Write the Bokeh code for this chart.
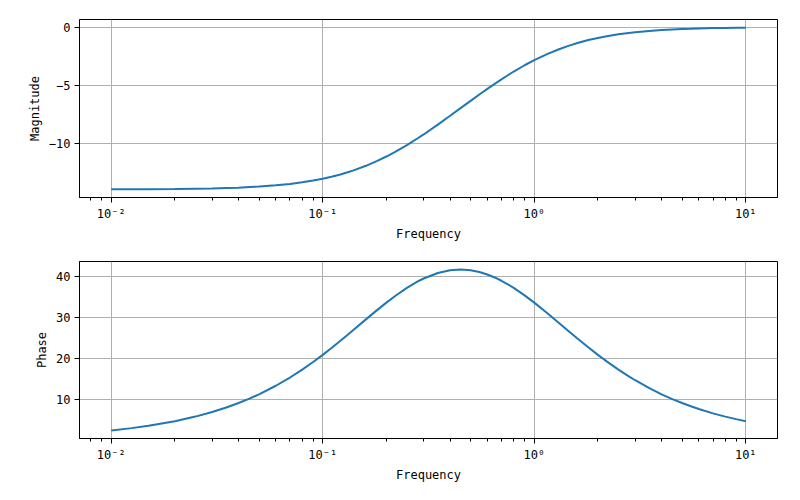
from bokeh.plotting import figure
from bokeh.layouts import column
from bokeh.models import Range1d, CustomJSTickFormatter, FixedTicker, LogTicker
from bokeh.embed import file_html
from bokeh.resources import INLINE

# Frequencies (rad/s) sampled along the curves
freq = [0.01, 0.0125, 0.015, 0.02, 0.025, 0.03, 0.035, 0.04, 0.045, 0.05, 0.06,
        0.07, 0.08, 0.09, 0.1, 0.11, 0.12, 0.13, 0.14, 0.16, 0.18, 0.2, 0.22,
        0.25, 0.28, 0.3, 0.35, 0.4, 0.45, 0.5, 0.55, 0.6, 0.65, 0.7, 0.75, 0.8,
        0.9, 1.0, 1.15, 1.3, 1.45, 1.6, 1.8, 2.0, 2.2, 2.5, 2.8, 3.0, 3.5, 4.0,
        4.5, 5.0, 5.5, 6.0, 7.0, 8.0, 9.0, 10.0]
# Magnitude (dB)
magnitude = [-13.97, -13.96, -13.96, -13.94, -13.91, -13.89, -13.85, -13.82,
             -13.77, -13.73, -13.62, -13.50, -13.36, -13.21, -13.05, -12.88,
             -12.71, -12.52, -12.33, -11.94, -11.54, -11.14, -10.74, -10.16,
             -9.59, -9.24, -8.39, -7.63, -6.95, -6.35, -5.80, -5.32, -4.88,
             -4.49, -4.14, -3.82, -3.28, -2.84, -2.32, -1.92, -1.61, -1.37,
             -1.11, -0.93, -0.78, -0.62, -0.50, -0.44, -0.33, -0.25, -0.20,
             -0.16, -0.14, -0.11, -0.08, -0.07, -0.05, -0.04]
# Phase (deg)
phase = [2.29, 2.86, 3.43, 4.57, 5.69, 6.81, 7.92, 9.02, 10.10, 11.17, 13.27,
         15.29, 17.23, 19.09, 20.85, 22.53, 24.12, 25.62, 27.02, 29.57, 31.78,
         33.69, 35.32, 37.30, 38.82, 39.61, 40.97, 41.63, 41.81, 41.63, 41.21,
         40.60, 39.87, 39.06, 38.20, 37.30, 35.48, 33.69, 31.14, 28.82, 26.74,
         24.88, 22.72, 20.85, 19.25, 17.23, 15.57, 14.62, 12.67, 11.17, 9.98,
         9.02, 8.22, 7.55, 6.49, 5.69, 5.07, 4.57]

mag_ticks = [-10, -5, 0]
phase_ticks = [10, 20, 30, 40]

FONT = "DejaVu Sans Mono"
LINE_COLOR = "#1f77b4"

x_fmt = CustomJSTickFormatter(code="""
const e = Math.round(Math.log10(tick));
const sup = {"-":"\u207b","0":"\u2070","1":"\u00b9","2":"\u00b2","3":"\u00b3",
             "4":"\u2074","5":"\u2075","6":"\u2076","7":"\u2077","8":"\u2078","9":"\u2079"};
return "10" + String(e).split("").map(c => sup[c]).join("");
""")
y_fmt_code = """
return tick < 0 ? "\u2212" + String(Math.abs(tick)) : String(tick);
"""


def make_fig(y, ylabel, yticks, yrange, top, bottom):
    p = figure(width=800, height=250, x_axis_type="log",
               x_range=Range1d(10 ** -2.15, 10 ** 1.15),
               y_range=Range1d(*yrange),
               output_backend="svg", toolbar_location=None,
               min_border_left=79, min_border_right=23,
               min_border_top=top, min_border_bottom=bottom)
    p.line(freq, y, line_color=LINE_COLOR, line_width=2)
    p.outline_line_color = "black"
    p.outline_line_width = 1
    p.background_fill_color = "white"
    p.border_fill_color = "white"

    p.xaxis.ticker = LogTicker(num_minor_ticks=10)
    p.xaxis.formatter = x_fmt
    p.yaxis.ticker = FixedTicker(ticks=yticks)
    p.yaxis.formatter = CustomJSTickFormatter(code=y_fmt_code)
    p.xaxis.axis_label = "Frequency"
    p.yaxis.axis_label = ylabel

    for ax in (p.xaxis, p.yaxis):
        ax.axis_line_color = "black"
        ax.major_tick_line_color = "black"
        ax.major_tick_out = 5
        ax.major_tick_in = 0
        ax.major_label_text_font = FONT
        ax.major_label_text_font_size = "12px"
        ax.major_label_text_color = "black"
        ax.axis_label_text_font = FONT
        ax.axis_label_text_font_size = "12px"
        ax.axis_label_text_font_style = "normal"
        ax.axis_label_text_color = "black"
        ax.major_label_standoff = 4
    p.xaxis.axis_label_standoff = 3
    p.yaxis.axis_label_standoff = 4
    p.xaxis.minor_tick_line_color = "black"
    p.xaxis.minor_tick_out = 3
    p.xaxis.minor_tick_in = 0
    p.yaxis.minor_tick_line_color = None

    p.grid.grid_line_color = "#b0b0b0"
    p.grid.grid_line_width = 1
    return p


p1 = make_fig(magnitude, "Magnitude", mag_ticks, (-14.67, 0.66), 19, 53)
p2 = make_fig(phase, "Phase", phase_ticks, (0.31, 43.79), 11, 62)

layout = column(p1, p2, spacing=0)
open("out.html", "w").write(file_html(layout, INLINE))
